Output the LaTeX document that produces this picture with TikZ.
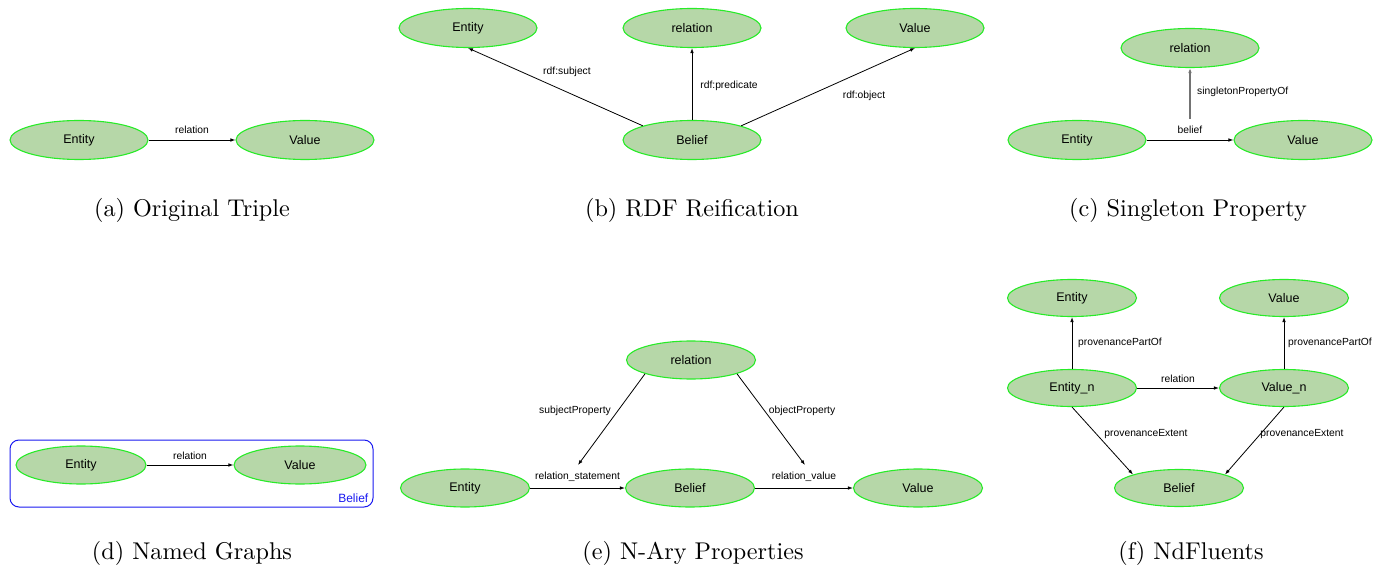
\documentclass[tikz,border=0pt]{standalone}
\usepackage{fontspec}
\newfontfamily\arialfont{Liberation Sans}
\usetikzlibrary{shapes.geometric,arrows.meta}
\definecolor{nodefill}{RGB}{182,215,168}
\definecolor{nodeline}{RGB}{40,235,40}
\definecolor{boxblue}{RGB}{25,25,240}
\begin{document}
\begin{tikzpicture}[x=1pt,y=-1pt,
  ell/.style={ellipse, draw=nodeline, fill=nodefill, line width=1.1pt,
    minimum width=138pt, minimum height=39pt, inner sep=0pt,
    font=\arialfont\fontsize{12.5}{14}\selectfont},
  ellsm/.style={ell, minimum width=130pt, minimum height=38pt},
  lbl/.style={font=\arialfont\fontsize{10.3}{12}\selectfont, inner sep=1pt},
  arr/.style={-{Latex[length=5pt,width=3.6pt]}, line width=0.8pt, black},
  captxt/.style={font=\fontsize{10}{12}\selectfont, inner sep=0pt, scale=2.42}
]
\useasboundingbox (0,0) rectangle (1374,572);

% (a)
\node[ell] (a-ent) at (79,140) {Entity};
\node[ell] (a-val) at (305,140) {Value};
\draw[arr] (a-ent) -- node[lbl, above=5pt] {relation} (a-val);
\node[captxt] (a-cap) at (192,210) {(a) Original Triple};

% (b)
\node[ell] (b-ent) at (468,28) {Entity};
\node[ell] (b-rel) at (692,28) {relation};
\node[ell] (b-val) at (915,28) {Value};
\node[ell] (b-bel) at (692,140) {Belief};
\draw[arr] (b-bel.north west) -- (b-ent.south);
\draw[arr] (b-bel) -- (b-rel);
\draw[arr] (b-bel.north east) -- (b-val.south);
\node[lbl] (b-l1) at (567,72) {rdf:subject};
\node[lbl] (b-l2) at (729,86) {rdf:predicate};
\node[lbl] (b-l3) at (864,96) {rdf:object};
\node[captxt] (b-cap) at (692,210) {(b) RDF Reification};

% (c)
\node[ell] (c-rel) at (1190,48) {relation};
\node[ell] (c-ent) at (1077,140) {Entity};
\node[ell] (c-val) at (1303,140) {Value};
\draw[arr] (c-ent) -- node[lbl, above=5pt] (c-bel) {belief} (c-val);
\draw[arr, draw=black!55, line width=1.3pt] ([yshift=6pt]c-bel.north) -- (c-rel);
\node[lbl, anchor=west] (c-l1) at (1196,92) {singletonPropertyOf};
\node[captxt] (c-cap) at (1188,210) {(c) Singleton Property};

% (d)
\node[draw=boxblue, rounded corners=9pt, line width=1pt, minimum width=363pt,
  minimum height=67pt, inner sep=0pt] (d-box) at (191.5,473.5) {};
\node[ellsm] (d-ent) at (81,465) {Entity};
\node[ellsm, minimum width=132pt] (d-val) at (300,465) {Value};
\draw[arr] (d-ent) -- node[lbl, above=4pt] {relation} (d-val);
\node[anchor=south east, text=boxblue, inner sep=0pt,
  font=\arialfont\fontsize{12}{14}\selectfont] (d-bel) at ([xshift=-5pt,yshift=5pt]d-box.south east) {Belief};
\node[captxt] (d-cap) at (192,553) {(d) Named Graphs};

% (e)
\node[ellsm, minimum width=129pt] (e-rel) at (691,360) {relation};
\node[ellsm, minimum width=129pt] (e-ent) at (465,488) {Entity};
\node[ellsm, minimum width=129pt] (e-bel) at (690,488) {Belief};
\node[ellsm, minimum width=129pt] (e-val) at (918,488) {Value};
\draw[arr] (e-ent) -- node[lbl, above=5pt] (e-l1) {relation\_statement} (e-bel);
\draw[arr] (e-bel) -- node[lbl, above=5pt] (e-l2) {relation\_value} (e-val);
\coordinate (e-t1) at (578,465);
\coordinate (e-t2) at (805,465);
\draw[arr] (e-rel.south west) -- (e-t1);
\draw[arr] (e-rel.south east) -- (e-t2);
\node[lbl] (e-l3) at (575,411) {subjectProperty};
\node[lbl] (e-l4) at (802,411) {objectProperty};
\node[captxt] (e-cap) at (693,553) {(e) N-Ary Properties};

% (f)
\node[ellsm, minimum width=129pt, minimum height=37pt] (f-ent) at (1072,298) {Entity};
\node[ellsm, minimum width=129pt, minimum height=37pt] (f-val) at (1284,298) {Value};
\node[ellsm, minimum width=129pt, minimum height=37pt] (f-entn) at (1072,388) {Entity\_n};
\node[ellsm, minimum width=129pt, minimum height=37pt] (f-valn) at (1284,388) {Value\_n};
\node[ellsm, minimum width=129pt, minimum height=37pt] (f-bel) at (1179,488) {Belief};
\draw[arr] (f-entn) -- (f-ent);
\draw[arr] (f-valn) -- (f-val);
\draw[arr] (f-entn) -- node[lbl, above=4pt] {relation} (f-valn);
\draw[arr] (f-entn.south) -- (f-bel.north west);
\draw[arr] (f-valn.south) -- (f-bel.north east);
\node[lbl, anchor=west] (f-l1) at (1077,343) {provenancePartOf};
\node[lbl, anchor=west] (f-l2) at (1287,343) {provenancePartOf};
\node[lbl] (f-l3) at (1146,434) {provenanceExtent};
\node[lbl] (f-l4) at (1302,434) {provenanceExtent};
\node[captxt] (f-cap) at (1191,553) {(f) NdFluents};
\end{tikzpicture}
\end{document}
